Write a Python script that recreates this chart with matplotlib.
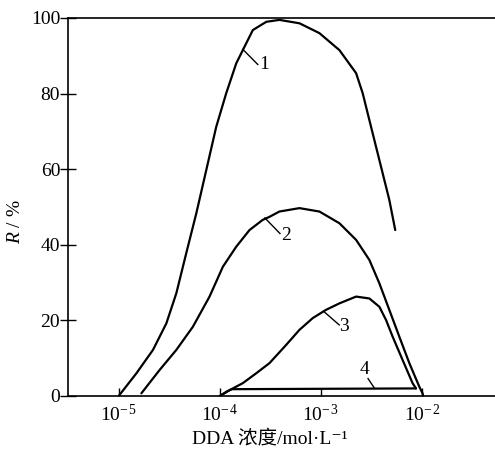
import numpy as np
import matplotlib
matplotlib.use("Agg")
import matplotlib.pyplot as plt

plt.rcParams["font.family"] = ["Liberation Serif", "Noto Sans CJK SC", "DejaVu Serif"]
plt.rcParams["mathtext.fontset"] = "custom"
plt.rcParams["mathtext.rm"] = "Liberation Serif"
plt.rcParams["mathtext.it"] = "Liberation Serif:italic"

# curve data: log10 of DDA concentration (mol/L) and recovery R (%)
c1_logx = [-5.0, -4.825, -4.661, -4.529, -4.430, -4.332, -4.233, -4.134, -4.036,
           -3.937, -3.838, -3.773, -3.674, -3.608, -3.54, -3.411, -3.213, -3.016,
           -2.818, -2.653, -2.588, -2.522, -2.423, -2.325, -2.266]
c1_r = [0.0, 6.0, 12.2, 19.2, 27.2, 37.8, 48.3, 59.8, 71.2,
        80.1, 88.0, 91.5, 96.8, 97.9, 99.0, 99.5, 98.6, 96.0,
        91.5, 85.4, 80.1, 73.0, 62.4, 51.9, 43.9]

c2_logx = [-4.776, -4.595, -4.430, -4.267, -4.102, -3.970, -3.838, -3.707, -3.576,
           -3.509, -3.411, -3.213, -3.016, -2.818, -2.653, -2.522, -2.423, -2.325,
           -2.226, -2.127, -2.029, -1.996, -1.99]
c2_r = [0.7, 6.9, 12.2, 18.3, 26.3, 34.2, 39.5, 43.9, 46.6,
        47.4, 48.8, 49.7, 48.8, 45.7, 41.3, 36.0, 29.8, 22.8,
        15.7, 8.7, 2.5, 0.7, 0.0]

c3_logx = [-4.0, -3.90, -3.773, -3.641, -3.509, -3.345, -3.213, -3.082, -2.950,
           -2.818, -2.653, -2.522, -2.423, -2.357, -2.292, -2.193, -2.095, -2.061]
c3_r = [0.0, 1.6, 3.4, 6.0, 8.7, 13.5, 17.5, 20.6, 22.8,
        24.5, 26.3, 25.8, 23.6, 20.1, 15.7, 9.5, 3.4, 2.0]

c4_logx = [-4.0, -3.93, -3.88, -3.0, -2.061]
c4_r = [0.0, 1.2, 1.8, 1.9, 2.0]

x_ticks = [1e-5, 1e-4, 1e-3, 1e-2]
x_tick_labels = ["10$^{-\\,5}$", "10$^{-\\,4}$", "10$^{-\\,3}$", "10$^{-\\,2}$"]
y_ticks = [0, 20, 40, 60, 80, 100]

# curve labels: (leader start, leader end, text position) in log10 x / R
labels = [
    ("1", (-3.773, 91.7), (-3.625, 87.7), (-3.56, 87.7)),
    ("2", (-3.555, 47.1), (-3.406, 43.0), (-3.35, 42.5)),
    ("3", (-2.97, 22.3), (-2.82, 18.8), (-2.77, 18.3)),
    ("4", (-2.47, 2.0), (-2.535, 4.6), (-2.57, 6.9)),
]


def main() -> None:
    fig = plt.figure(figsize=(4.95, 4.58), dpi=100)
    ax = fig.add_axes([0.137, 0.1354, 0.863, 0.8253])
    for lx, r in [(c1_logx, c1_r), (c2_logx, c2_r), (c3_logx, c3_r), (c4_logx, c4_r)]:
        ax.plot(10 ** np.array(lx), r, color="black", lw=1.6,
                solid_joinstyle="round", solid_capstyle="round")

    for text, p0, p1, pt in labels:
        ax.plot([10 ** p0[0], 10 ** p1[0]], [p0[1], p1[1]], color="black", lw=1.0)
        ax.text(10 ** pt[0], pt[1], text, fontsize=14, ha="center", va="center")

    ax.set_xscale("log")
    ax.set_xlim(10 ** -5.503, 10 ** -1.28)
    ax.set_ylim(0, 100)
    ax.set_xticks(x_ticks)
    ax.set_xticklabels(x_tick_labels, fontsize=14)
    ax.xaxis.set_minor_locator(matplotlib.ticker.NullLocator())
    ax.set_yticks(y_ticks)
    ax.set_yticklabels([str(v) for v in y_ticks], fontsize=14)
    ax.tick_params(axis="x", direction="in", length=6, width=1.0, pad=6)
    ax.tick_params(axis="y", direction="inout", length=11, width=1.0, pad=0)
    ax.spines["right"].set_visible(False)
    for side in ["left", "bottom", "top"]:
        ax.spines[side].set_linewidth(1.2)

    ax.set_xlabel("DDA 浓度/mol·L⁻¹", fontsize=14)
    ax.xaxis.set_label_coords(0.473, -0.088)
    ax.set_ylabel("$R$ / %", fontsize=14)
    ax.yaxis.set_label_coords(-0.103, 0.46)

    fig.savefig("out.png", dpi=100)


if __name__ == "__main__":
    main()
